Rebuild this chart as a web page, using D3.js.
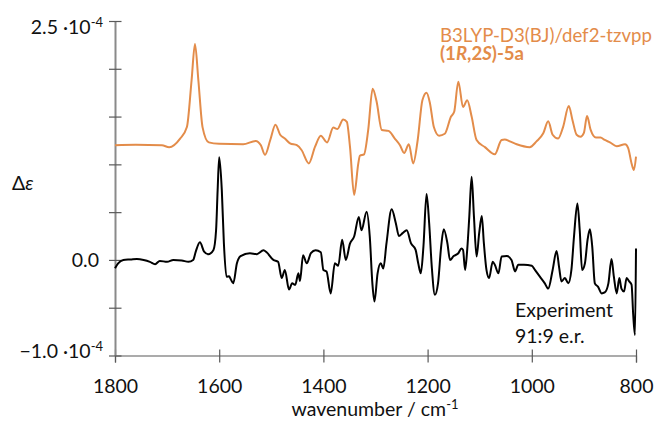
<!DOCTYPE html>
<html>
<head>
<meta charset="utf-8">
<script src="https://cdn.jsdelivr.net/npm/d3@7"></script>
<style>
  body { margin: 0; background: #fff; }
  svg { font-family: Lato, "Open Sans", sans-serif; }
</style>
</head>
<body>
<div id="container"></div>
<script>
// calculated spectrum (B3LYP-D3(BJ)/def2-tzvpp, offset as plotted), units 1e-4
const calcWn = [1800, 1760, 1710, 1696, 1675, 1662, 1653, 1646.5, 1640, 1632, 1620, 1600, 1554, 1530, 1520, 1512, 1502, 1492, 1483, 1474, 1464, 1451, 1442, 1428, 1416, 1405, 1393, 1381, 1373, 1362, 1355, 1349, 1341, 1333, 1330, 1322, 1314, 1305.5, 1298, 1288, 1275, 1263, 1253, 1245, 1236, 1227.6, 1219, 1210, 1202, 1195.5, 1188, 1178, 1167, 1155, 1149, 1141, 1132, 1124, 1115.5, 1106, 1090, 1071, 1058, 1052, 1042, 1029, 1004, 991, 978, 968.5, 960, 949.5, 940, 929, 922, 914, 906.5, 900, 894, 887, 877, 868, 860, 850, 837, 821, 815, 808.5, 804, 800];
const calcVal = [1.20, 1.205, 1.20, 1.18, 1.27, 1.39, 1.88, 2.26, 1.88, 1.39, 1.23, 1.215, 1.21, 1.245, 1.20, 1.10, 1.255, 1.415, 1.31, 1.27, 1.22, 1.20, 1.15, 1.01, 1.185, 1.30, 1.23, 1.385, 1.37, 1.47, 1.445, 1.185, 0.68, 1.01, 1.09, 1.105, 1.36, 1.79, 1.66, 1.36, 1.35, 1.27, 1.20, 1.12, 1.21, 1.01, 1.255, 1.67, 1.75, 1.64, 1.39, 1.30, 1.32, 1.50, 1.55, 1.865, 1.60, 1.67, 1.50, 1.255, 1.18, 1.105, 1.255, 1.26, 1.24, 1.21, 1.18, 1.24, 1.325, 1.45, 1.31, 1.27, 1.39, 1.61, 1.465, 1.31, 1.29, 1.33, 1.505, 1.36, 1.28, 1.28, 1.255, 1.23, 1.19, 1.21, 1.17, 1.01, 0.94, 1.08];

// experimental spectrum, units 1e-4
const expWn = [1800, 1794, 1784, 1770, 1758, 1745, 1733, 1723, 1714, 1700, 1688, 1672, 1659, 1650, 1645, 1637, 1629, 1621, 1611, 1606, 1603, 1600, 1595, 1591, 1586, 1581, 1578, 1573, 1566, 1559, 1541, 1528, 1515, 1509, 1496, 1487, 1480, 1474, 1466, 1460, 1454, 1448, 1445, 1439, 1432, 1424, 1415, 1405, 1400, 1394, 1386, 1378, 1371.5, 1364, 1357, 1349, 1341, 1332, 1327, 1317, 1311, 1306, 1302, 1296, 1290, 1285, 1279, 1269, 1261, 1255, 1248, 1240, 1232, 1223, 1218, 1213, 1208, 1202, 1197, 1192, 1186, 1180, 1174, 1169, 1162, 1157, 1150, 1141, 1135, 1132, 1128, 1124, 1120, 1115.5, 1111, 1106, 1101, 1096, 1092, 1087, 1082, 1075, 1071, 1064, 1058, 1048, 1039, 1032, 1026, 1015, 1000, 994, 984.5, 975, 968.5, 960, 952.5, 947.5, 943, 936.5, 930, 924, 919, 912.5, 908, 903.5, 898, 893, 888.5, 884, 879, 873, 866, 860, 853, 847, 842.5, 837, 832, 828, 823, 818, 813, 808.5, 805.5, 802, 800];
const expVal = [-0.087, -0.035, 0.0, 0.005, 0.01, 0.0, -0.02, -0.045, -0.01, -0.02, 0.0, -0.005, -0.02, 0.0, 0.087, 0.185, 0.087, 0.06, 0.105, 0.31, 0.73, 1.075, 0.73, 0.175, -0.175, -0.17, -0.20, -0.245, -0.035, 0.04, 0.07, 0.06, 0.10, 0.08, 0.0, -0.02, -0.19, -0.105, -0.31, -0.245, -0.26, -0.14, -0.22, 0.05, -0.035, 0.07, 0.10, 0.08, -0.105, -0.12, -0.35, -0.035, -0.06, 0.21, 0.0, 0.17, 0.245, 0.45, 0.31, 0.505, 0.245, -0.245, -0.435, -0.14, -0.035, -0.09, 0.17, 0.53, 0.385, 0.25, 0.28, 0.31, 0.175, 0.105, -0.035, -0.14, 0.14, 0.69, 0.385, -0.07, -0.365, -0.245, 0.14, 0.32, 0.175, 0.0, 0.04, 0.07, 0.12, 0.105, -0.105, 0.105, 0.45, 0.87, 0.45, 0.035, 0.28, 0.46, 0.175, -0.105, -0.19, -0.02, -0.05, -0.14, 0.035, 0.04, 0.0, -0.12, -0.05, -0.05, -0.06, -0.105, -0.175, -0.245, -0.30, -0.105, 0.094, -0.08, -0.225, -0.19, -0.245, -0.105, 0.245, 0.59, 0.31, -0.105, -0.035, 0.21, 0.32, 0.14, -0.245, -0.28, -0.35, -0.34, -0.245, 0.01, -0.175, -0.35, -0.19, -0.30, -0.33, -0.19, -0.225, -0.26, -0.56, -0.785, 0.12];

const xTicks = [1800, 1600, 1400, 1200, 1000, 800];
const yTicks = [2.5, 2.0, 1.5, 1.0, 0.5, 0.0, -0.5, -1.0];
const yLabels = [
  {v: 2.5, text: "2.5 ·10", exp: "-4"},
  {v: 0.0, text: "0.0", exp: ""},
  {v: -1.0, text: "\u22121.0 ·10", exp: "-4"}
];

const orange = "#e38c4a";
const fs = 19.5;
const margin = {top: 21, right: 20, bottom: 66.5, left: 115};
const width = 656 - margin.left - margin.right;
const height = 422 - margin.top - margin.bottom;

const svg = d3.select("#container")
  .append("svg")
  .attr("width", 656)
  .attr("height", 422)
  .append("g")
  .attr("transform", "translate(" + margin.left + "," + margin.top + ")");

const x = d3.scaleLinear().domain([1800, 800]).range([0, width]);
const y = d3.scaleLinear().domain([-1, 2.5]).range([height, 0]);

// x axis
const xAxis = svg.append("g")
  .attr("class", "x axis")
  .attr("transform", "translate(0," + height + ")")
  .call(d3.axisBottom(x).tickValues(xTicks).tickFormat(d3.format("d")).tickSizeOuter(0).tickSize(7));
xAxis.select(".domain").attr("stroke", "#595959").attr("stroke-width", 1.2);
xAxis.selectAll(".tick line").attr("y1", -6).attr("y2", 7).attr("stroke", "#595959").attr("stroke-width", 1.2);
xAxis.selectAll(".tick text")
  .attr("y", 24)
  .attr("font-size", fs).attr("fill", "#111").attr("font-family", "Lato");

// y axis
const yAxis = svg.append("g")
  .attr("class", "y axis")
  .call(d3.axisLeft(y).tickValues(yTicks).tickSizeOuter(0).tickFormat(""));
yAxis.select(".domain").attr("stroke", "#8a8a8a").attr("stroke-width", 2);
yAxis.selectAll(".tick line").attr("x1", -6).attr("x2", 6.5).attr("stroke", "#595959").attr("stroke-width", 1.2);

const yl = svg.append("g").attr("class", "y labels");
yLabels.forEach(d => {
  let dy = 0;
  if (d.v === 2.5) dy = 6;
  if (d.v === -1.0) dy = -5;
  const t = yl.append("text")
    .attr("x", d.exp ? -12 : -16)
    .attr("y", y(d.v) + dy + 7)
    .attr("text-anchor", "end")
    .attr("font-size", fs)
    .attr("fill", "#111")
    .text(d.text);
  if (d.exp) {
    t.append("tspan")
      .attr("font-size", 13)
      .attr("dy", -7)
      .text(d.exp);
  }
});

// series
const line = d3.line()
  .x(d => x(d[0]))
  .y(d => y(d[1]))
  .curve(d3.curveMonotoneX);

svg.append("path")
  .attr("d", line(d3.zip(calcWn, calcVal)))
  .attr("fill", "none")
  .attr("stroke", orange)
  .attr("stroke-width", 2)
  .attr("stroke-linejoin", "round");

svg.append("path")
  .attr("d", line(d3.zip(expWn, expVal)))
  .attr("fill", "none")
  .attr("stroke", "#000")
  .attr("stroke-width", 2)
  .attr("stroke-linejoin", "round");

// annotations
svg.append("text")
  .attr("x", 12 - margin.left)
  .attr("y", 190 - margin.top)
  .attr("font-size", fs)
  .attr("fill", "#111")
  .html('Δ<tspan font-style="italic">ε</tspan>');

svg.append("text")
  .attr("x", 440 - margin.left)
  .attr("y", 41.7 - margin.top)
  .attr("font-size", 18.6)
  .attr("fill", orange)
  .text("B3LYP-D3(BJ)/def2-tzvpp");

svg.append("text")
  .attr("x", 440 - margin.left)
  .attr("y", 59.5 - margin.top)
  .attr("font-size", 18.6)
  .attr("font-weight", "bold")
  .attr("fill", orange)
  .html('(1<tspan font-style="italic">R</tspan>,2<tspan font-style="italic">S</tspan>)-5a');

svg.append("text")
  .attr("x", 515 - margin.left)
  .attr("y", 317 - margin.top)
  .attr("font-size", fs)
  .attr("fill", "#111")
  .text("Experiment");

svg.append("text")
  .attr("x", 515 - margin.left)
  .attr("y", 343 - margin.top)
  .attr("font-size", fs)
  .attr("fill", "#111")
  .text("91:9 e.r.");

svg.append("text")
  .attr("x", 375 - margin.left)
  .attr("y", 416 - margin.top)
  .attr("text-anchor", "middle")
  .attr("font-size", fs)
  .attr("fill", "#111")
  .html('wavenumber / cm<tspan font-size="13" dy="-7">-1</tspan>');
</script>
</body>
</html>
